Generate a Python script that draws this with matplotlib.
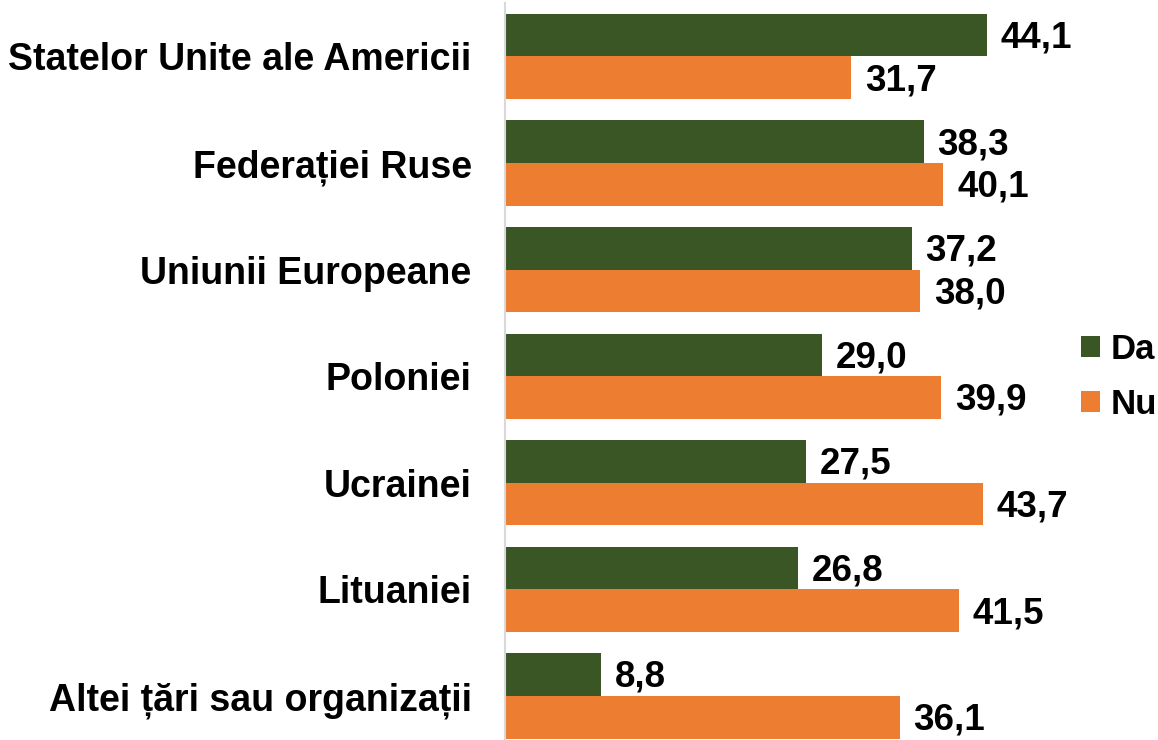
import matplotlib
matplotlib.use("Agg")
import matplotlib.pyplot as plt
import numpy as np

categories = ["Statelor Unite ale Americii", "Federației Ruse", "Uniunii Europeane",
              "Poloniei", "Ucrainei", "Lituaniei", "Altei țări sau organizații"]
da_values = [44.1, 38.3, 37.2, 29.0, 27.5, 26.8, 8.8]
nu_values = [31.7, 40.1, 38.0, 39.9, 43.7, 41.5, 36.1]
series_names = ["Da", "Nu"]

GREEN = "#3a5625"
ORANGE = "#ed7d31"

plt.rcParams['font.family'] = ['Liberation Sans', 'DejaVu Sans']
plt.rcParams['font.weight'] = 'bold'

W, H = 1158, 740
fig = plt.figure(figsize=(W / 100, H / 100), dpi=100)
fig.patch.set_facecolor("white")

ax_left, ax_right = 505, 1060
ax_top, ax_bot = 3.2, 749.3
ax = fig.add_axes([ax_left / W, (H - ax_bot) / H, (ax_right - ax_left) / W, (ax_bot - ax_top) / H])
ax.set_facecolor("none")

y = np.arange(len(categories))
h = 0.4
b1 = ax.barh(y - h / 2, da_values, height=h, color=GREEN, label=series_names[0])
b2 = ax.barh(y + h / 2, nu_values, height=h, color=ORANGE, label=series_names[1])

def fmt(v):
    return f"{v:.1f}".replace(".", ",")

for ypos, vals in ((y - h / 2, da_values), (y + h / 2, nu_values)):
    for yy, v in zip(ypos, vals):
        ax.annotate(fmt(v), xy=(v, yy), xytext=(10, -2), textcoords="offset points",
                    ha="left", va="center", fontsize=26.5, fontweight="bold", color="black")

ax.set_ylim(len(categories) - 0.5, -0.5)
ax.set_xlim(0, (ax_right - ax_left) / 10.93)
ax.set_yticks(y)
ax.set_yticklabels(categories, fontsize=27, fontweight='bold')
ax.tick_params(axis='y', length=0, pad=24)
ax.set_xticks([])
for s in ("top", "right", "bottom"):
    ax.spines[s].set_visible(False)
ax.spines["left"].set_color("#d9d9d9")
ax.spines["left"].set_linewidth(1.5)

leg = fig.legend(handles=[b1, b2], labels=series_names, loc="center left",
                 bbox_to_anchor=(1081 / W, 1 - 377 / H), frameon=False,
                 prop={'weight': 'bold', 'size': 25},
                 borderpad=0, borderaxespad=0,
                 handlelength=0.55, handleheight=0.55, handletextpad=0.29,
                 labelspacing=0.64)

fig.savefig("out.png", dpi=100, facecolor="white")
